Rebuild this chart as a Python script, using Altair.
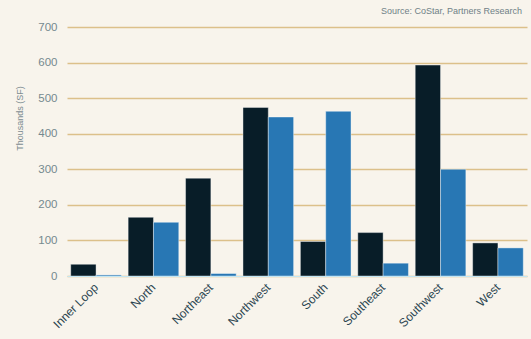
import altair as alt
import pandas as pd

regions = ["Inner Loop", "North", "Northeast", "Northwest", "South", "Southeast", "Southwest", "West"]
series_a_name = "Under Construction"
series_b_name = "Delivered"
series_a = [33, 165, 275, 474, 97, 122, 593, 93]
series_b = [3, 151, 7, 447, 463, 36, 300, 79]
y_ticks = [0, 100, 200, 300, 400, 500, 600, 700]

rows = []
for r, a, b in zip(regions, series_a, series_b):
    rows.append({"region": r, "series": series_a_name, "value": a})
    rows.append({"region": r, "series": series_b_name, "value": b})
df = pd.DataFrame(rows)

FONT = "Liberation Sans"

chart = alt.Chart(df).mark_bar(stroke="white", strokeOpacity=0.4, strokeWidth=1).encode(
    x=alt.X("region:N", sort=regions,
            scale=alt.Scale(paddingInner=0.118, paddingOuter=0.065),
            axis=alt.Axis(title=None, labelAngle=-45, labelAlign="right", labelBaseline="middle",
                          labelFontSize=12, labelColor="#2b4550", labelFont=FONT, labelPadding=9,
                          ticks=False, domainColor="#c3e6f3", domainWidth=1.2, zindex=1)),
    xOffset=alt.XOffset("series:N", sort=[series_a_name, series_b_name],
                        scale=alt.Scale(paddingInner=0, paddingOuter=0)),
    y=alt.Y("value:Q", scale=alt.Scale(domain=[0, 700], nice=False),
            axis=alt.Axis(values=y_ticks, title="Thousands (SF)", titleFontSize=9,
                          titleFontWeight="normal", titleColor="#7d8c91", titleFont=FONT,
                          titleX=-43, titleY=91, titleAngle=-90, titleAlign="center",
                          labelFontSize=11.5, labelColor="#75898f", labelFont=FONT, labelPadding=10,
                          ticks=False, domain=False, gridColor="#dcc08a", gridWidth=1.3)),
    color=alt.Color("series:N", sort=[series_a_name, series_b_name],
                    scale=alt.Scale(domain=[series_a_name, series_b_name], range=["#081d28", "#2877b4"]),
                    legend=None),
).properties(
    width=460, height=249,
    title=alt.TitleParams("Source: CoStar, Partners Research", anchor="end", fontSize=9,
                          fontWeight="normal", color="#6f8187", font=FONT, offset=5, dx=-5),
    background="#f8f4ec",
    padding={"left": 67, "top": 27, "right": 4, "bottom": 63},
    autosize=alt.AutoSizeParams(type="none"),
).configure_view(stroke=None)

chart.save("out.html", embed_options={"renderer": "svg", "actions": False})
